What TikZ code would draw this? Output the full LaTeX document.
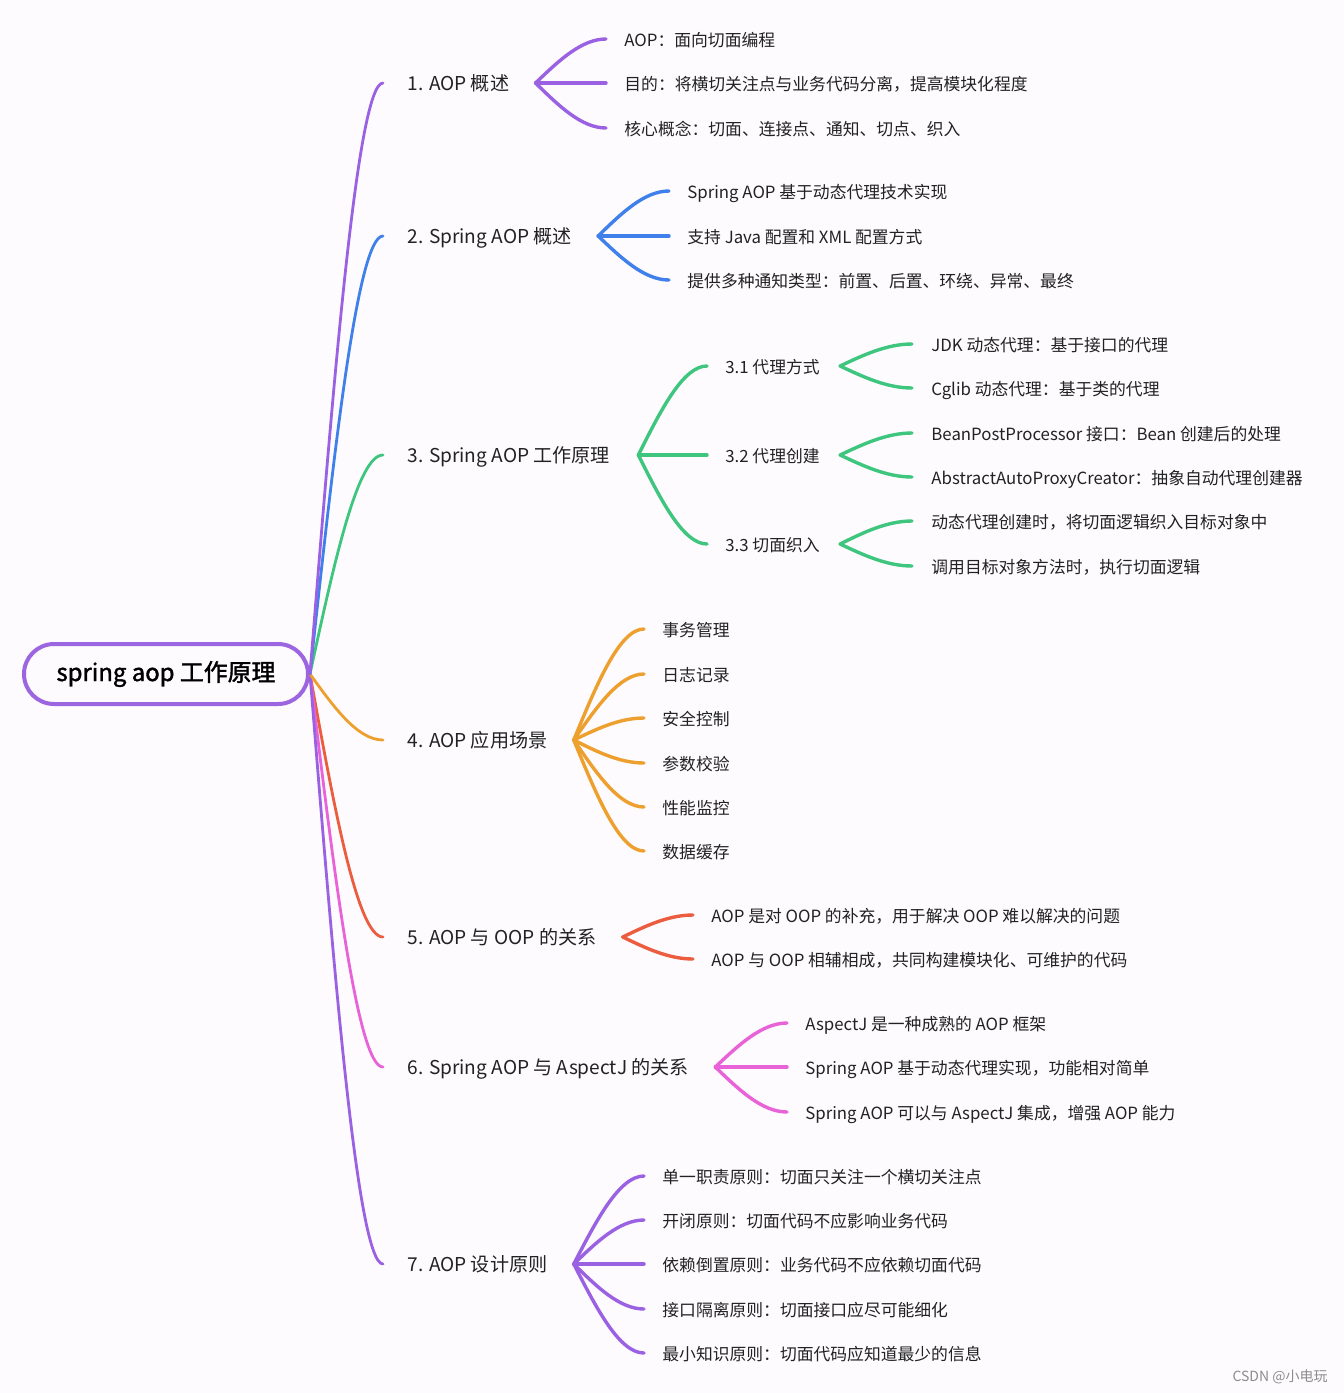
\documentclass[tikz,border=0pt]{standalone}
\usepackage{fontspec}
\setmainfont{Noto Sans CJK SC}
\newfontfamily\rootfont{Noto Sans CJK SC}[FakeBold=1.6]
\usetikzlibrary{calc}
\definecolor{bgcol}{HTML}{FDFBFE}
\definecolor{txt}{HTML}{222222}
\definecolor{cRoot}{HTML}{9B66E0}
\definecolor{cA}{HTML}{9A62E2}
\definecolor{cB}{HTML}{4080EA}
\definecolor{cC}{HTML}{3EC67E}
\definecolor{cD}{HTML}{EDA02E}
\definecolor{cE}{HTML}{EC5C3E}
\definecolor{cF}{HTML}{E862D8}
\definecolor{cG}{HTML}{9A62E2}
\newcommand\mmc[3]{\draw[#1] let \p1=(#2), \p2=(#3), \n1={0.35*(\x2-\x1)} in (\p1) .. controls ({0.5*(\x1+\x2-\n1)},{0.5*(\y1+\y2)}) and ({\x2-\n1},\y2) .. (\p2);}
\tikzset{
  leaf/.style={anchor=west,inner sep=0pt,text=txt,text height=0.8em,text depth=0.1em,font=\fontsize{8.4pt}{10pt}\selectfont},
  lvl/.style={anchor=west,inner sep=0pt,text=txt,text height=0.8em,text depth=0.1em,font=\fontsize{9.55pt}{12pt}\selectfont},
  rootbox/.style={draw=cRoot,line width=2pt,rounded corners=15pt,minimum width=142pt,minimum height=30pt,inner sep=0pt,text=black,font=\rootfont\fontsize{11.95pt}{14pt}\selectfont},
  mainln/.style={line width=1.4pt,line cap=round},
  subln/.style={line width=1.7pt,line cap=round}
}
\begin{document}
\begin{tikzpicture}[x=0.5pt,y=-0.5pt]
\fill[bgcol] (0,0) rectangle (1344,1393);
\useasboundingbox (0,0) rectangle (1344,1393);

\node[rootbox] (root) at (166,674) {\raisebox{-0.5pt}{spring aop 工作原理}};

% level 1
\node[lvl] (b1) at (407,83) {1. AOP 概述};
\node[lvl] (b2) at (407,236) {2. Spring AOP 概述};
\node[lvl] (b3) at (407,455) {3. Spring AOP 工作原理};
\node[lvl] (b4) at (407,740) {4. AOP 应用场景};
\node[lvl] (b5) at (407,937) {5. AOP 与 OOP 的关系};
\node[lvl] (b6) at (407,1067) {6. Spring AOP 与 AspectJ 的关系};
\node[lvl] (b7) at (407,1264) {7. AOP 设计原则};

% branch 1
\node[leaf] (l11) at (624,39) {AOP：面向切面编程};
\node[leaf] (l12) at (624,83) {目的：将横切关注点与业务代码分离，提高模块化程度};
\node[leaf] (l13) at (624,128) {核心概念：切面、连接点、通知、切点、织入};
% branch 2
\node[leaf] (l21) at (687,191) {Spring AOP 基于动态代理技术实现};
\node[leaf] (l22) at (687,236) {支持 Java 配置和 XML 配置方式};
\node[leaf] (l23) at (687,280) {提供多种通知类型：前置、后置、环绕、异常、最终};
% branch 3
\node[leaf] (m31) at (725,366) {3.1 代理方式};
\node[leaf] (m32) at (725,455) {3.2 代理创建};
\node[leaf] (m33) at (725,544) {3.3 切面织入};
\node[leaf] (l311) at (931,344) {JDK 动态代理：基于接口的代理};
\node[leaf] (l312) at (931,388) {Cglib 动态代理：基于类的代理};
\node[leaf] (l321) at (931,433) {BeanPostProcessor 接口：Bean 创建后的处理};
\node[leaf] (l322) at (931,477) {AbstractAutoProxyCreator：抽象自动代理创建器};
\node[leaf] (l331) at (931,521) {动态代理创建时，将切面逻辑织入目标对象中};
\node[leaf] (l332) at (931,566) {调用目标对象方法时，执行切面逻辑};
% branch 4
\node[leaf] (l41) at (662,629) {事务管理};
\node[leaf] (l42) at (662,674) {日志记录};
\node[leaf] (l43) at (662,718) {安全控制};
\node[leaf] (l44) at (662,763) {参数校验};
\node[leaf] (l45) at (662,807) {性能监控};
\node[leaf] (l46) at (662,851) {数据缓存};
% branch 5
\node[leaf] (l51) at (711,915) {AOP 是对 OOP 的补充，用于解决 OOP 难以解决的问题};
\node[leaf] (l52) at (711,959) {AOP 与 OOP 相辅相成，共同构建模块化、可维护的代码};
% branch 6
\node[leaf] (l61) at (805,1023) {AspectJ 是一种成熟的 AOP 框架};
\node[leaf] (l62) at (805,1067) {Spring AOP 基于动态代理实现，功能相对简单};
\node[leaf] (l63) at (805,1112) {Spring AOP 可以与 AspectJ 集成，增强 AOP 能力};
% branch 7
\node[leaf] (l71) at (662,1176) {单一职责原则：切面只关注一个横切关注点};
\node[leaf] (l72) at (662,1220) {开闭原则：切面代码不应影响业务代码};
\node[leaf] (l73) at (662,1264) {依赖倒置原则：业务代码不应依赖切面代码};
\node[leaf] (l74) at (662,1309) {接口隔离原则：切面接口应尽可能细化};
\node[leaf] (l75) at (662,1353) {最小知识原则：切面代码应知道最少的信息};

\node[anchor=east,inner sep=0pt,text=black!45,font=\fontsize{7pt}{8pt}\selectfont] (wm) at (1328,1377) {CSDN @小电玩};

% main branches
\mmc{mainln,cE}{root.east}{[xshift=-12pt]b5.west}
\mmc{mainln,cF}{root.east}{[xshift=-12pt]b6.west}
\mmc{mainln,cG}{root.east}{[xshift=-12pt]b7.west}
\mmc{mainln,cD}{root.east}{[xshift=-12pt]b4.west}
\mmc{mainln,cC}{root.east}{[xshift=-12pt]b3.west}
\mmc{mainln,cB}{root.east}{[xshift=-12pt]b2.west}
\mmc{mainln,cA}{root.east}{[xshift=-12pt]b1.west}

% sub branches
\foreach \t in {l11,l12,l13}{\mmc{subln,cA}{[xshift=13pt]b1.east}{[xshift=-9pt]\t.west}}
\foreach \t in {l21,l22,l23}{\mmc{subln,cB}{[xshift=13pt]b2.east}{[xshift=-9pt]\t.west}}
\foreach \t in {m31,m32,m33}{\mmc{subln,cC}{[xshift=14pt]b3.east}{[xshift=-9pt]\t.west}}
\foreach \t in {l311,l312}{\mmc{subln,cC}{[xshift=10pt]m31.east}{[xshift=-9.5pt]\t.west}}
\foreach \t in {l321,l322}{\mmc{subln,cC}{[xshift=10pt]m32.east}{[xshift=-9.5pt]\t.west}}
\foreach \t in {l331,l332}{\mmc{subln,cC}{[xshift=10pt]m33.east}{[xshift=-9.5pt]\t.west}}
\foreach \t in {l41,l42,l43,l44,l45,l46}{\mmc{subln,cD}{[xshift=13pt]b4.east}{[xshift=-9pt]\t.west}}
\foreach \t in {l51,l52}{\mmc{subln,cE}{[xshift=13pt]b5.east}{[xshift=-9pt]\t.west}}
\foreach \t in {l61,l62,l63}{\mmc{subln,cF}{[xshift=13pt]b6.east}{[xshift=-9pt]\t.west}}
\foreach \t in {l71,l72,l73,l74,l75}{\mmc{subln,cG}{[xshift=13pt]b7.east}{[xshift=-9pt]\t.west}}
\end{tikzpicture}
\end{document}
